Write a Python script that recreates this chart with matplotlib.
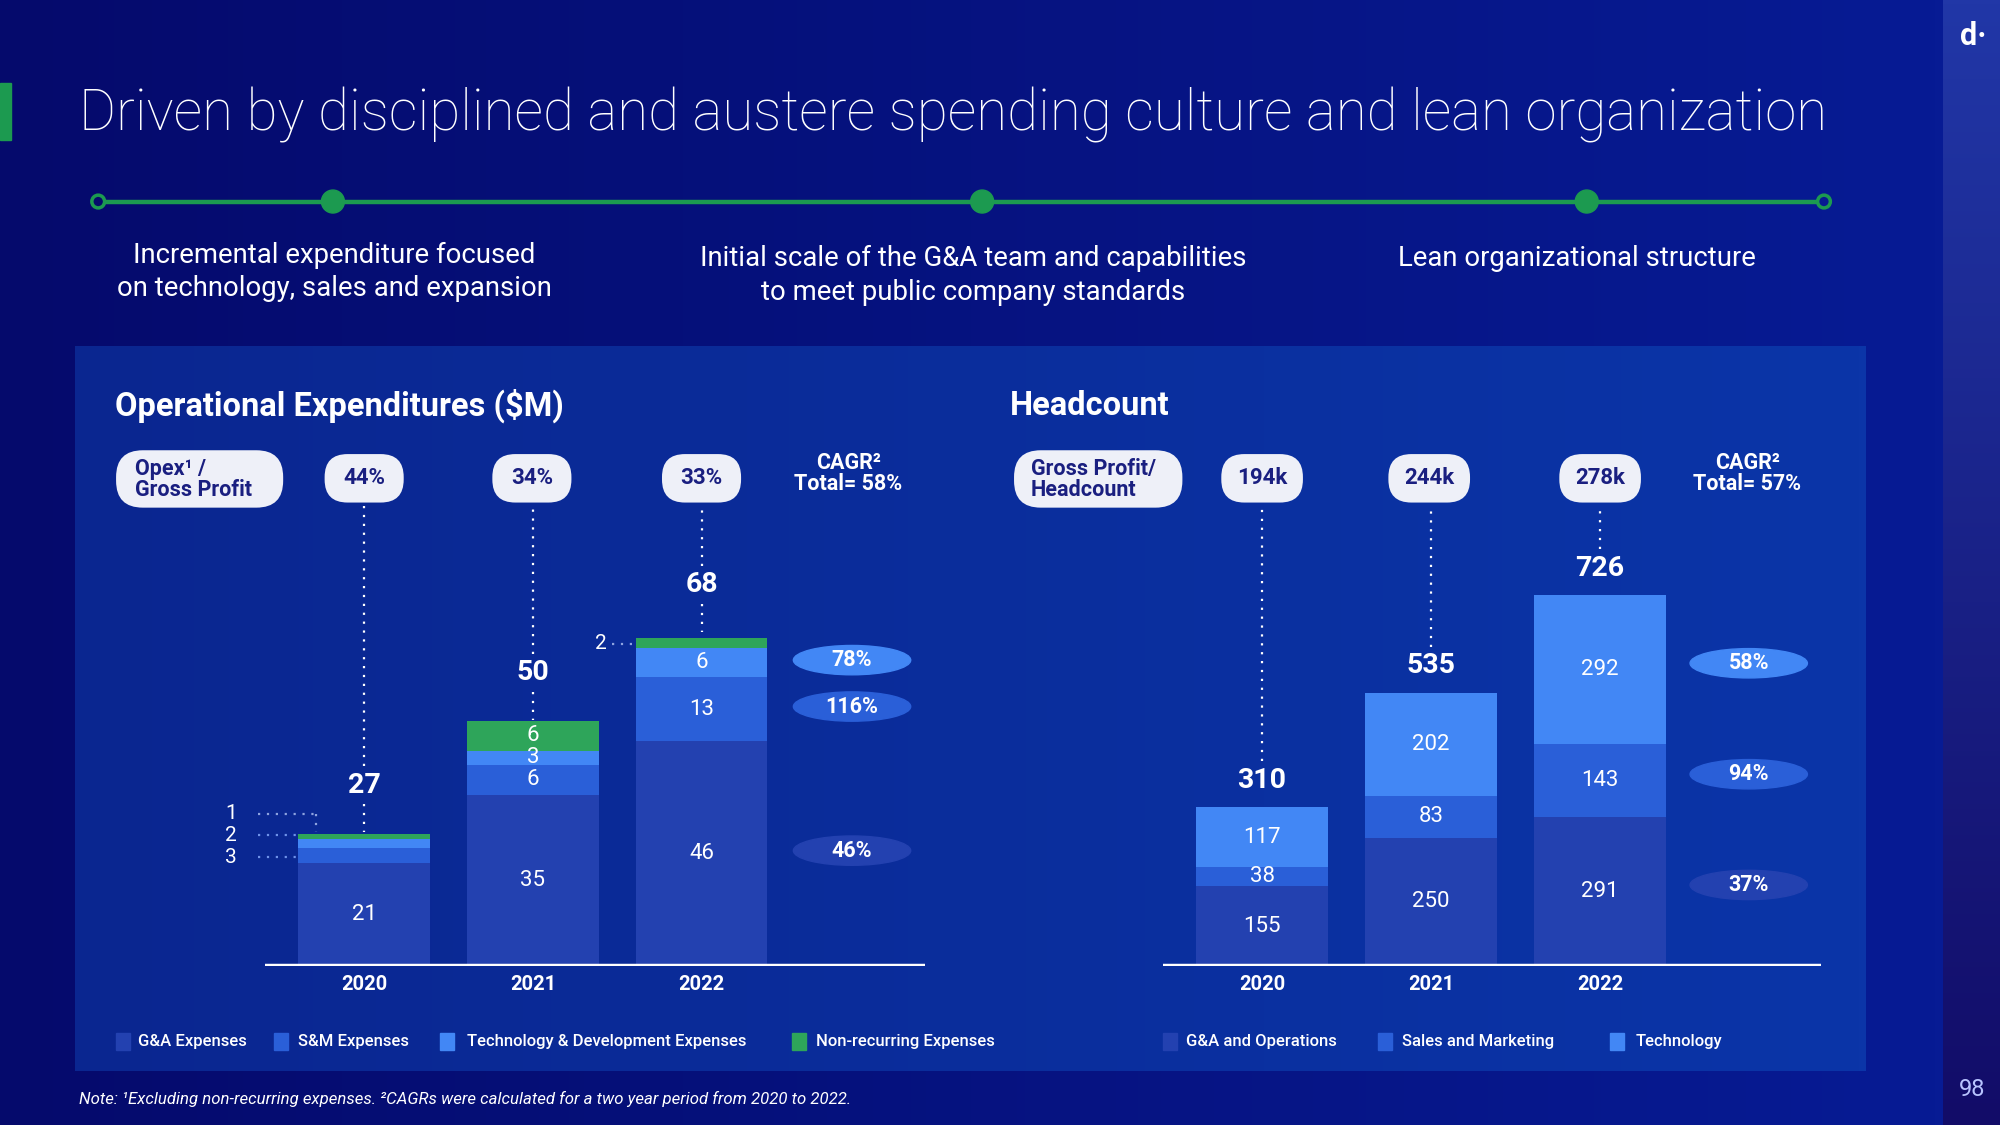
import matplotlib
matplotlib.use('Agg')
import matplotlib.pyplot as plt
import numpy as np
from matplotlib.patches import Rectangle, FancyBboxPatch, Ellipse, Circle
from matplotlib.colors import to_rgb

plt.rcParams['font.family'] = ['Roboto', 'DejaVu Sans']

# ---- data ----
years = ['2020', '2021', '2022']

opex_ga = [21, 35, 46]
opex_sm = [3, 6, 13]
opex_tech = [2, 3, 6]
opex_nr = [1, 6, 2]
opex_total = [27, 50, 68]
opex_ratio = ['44%', '34%', '33%']          # Opex / Gross Profit
opex_cagr = ['46%', '116%', '78%']          # G&A, S&M, Tech
opex_cagr_total = '58%'

hc_ga = [155, 250, 291]
hc_sm = [38, 83, 143]
hc_tech = [117, 202, 292]
hc_total = [310, 535, 726]
hc_gp_per_head = ['194k', '244k', '278k']
hc_cagr = ['37%', '94%', '58%']
hc_cagr_total = '57%'

opex_names = ['G&A Expenses', 'S&M Expenses', 'Technology & Development Expenses', 'Non-recurring Expenses']
hc_names = ['G&A and Operations', 'Sales and Marketing', 'Technology']

# ---- style ----
C_GA = '#2341b0'
C_SM = '#2a5fd8'
C_TECH = '#4287f5'
C_NR = '#2ea55a'
GREEN = '#1c9a50'
NAVY = '#1a1f80'
PILL = '#eef0f8'
WHITE = 'white'

W, H = 1568, 882      # layout grid (reference pixels)
BASE = 757            # baseline of both charts


def fx(x):
    return x / W


def fy(y):
    return 1 - y / H


def grad(c0, c1, n=256, vertical=False):
    a = np.array(to_rgb(c0))
    b = np.array(to_rgb(c1))
    t = np.linspace(0, 1, n)[:, None]
    g = a + (b - a) * t
    return g[:, None, :] if vertical else g[None, :, :]


fig = plt.figure(figsize=(20, 11.25), dpi=100)

# background layer in pixel coords
bg = fig.add_axes([0, 0, 1, 1])
bg.axis('off')
bg.imshow(grad('#050a6c', '#071b94'), extent=(0, 1523, H, 0), aspect='auto')
bg.imshow(grad('#2137a7', '#120c68', vertical=True), extent=(1523, W, H, 0), aspect='auto')
bg.imshow(grad('#0a2690', '#0b35a8'), extent=(59, 1463, 840, 272), aspect='auto')

bg.add_patch(Rectangle((0, 65), 8.5, 45, color=GREEN))
bg.text(62, 90, 'Driven by disciplined and austere spending culture and lean organization',
        color=WHITE, fontsize=40.7, fontweight='light', va='center', ha='left')

# timeline
bg.plot([77, 1430], [158, 158], color=GREEN, lw=3.2, zorder=2)
for xc in [261, 770, 1244]:
    bg.add_patch(Circle((xc, 158), 9, color=GREEN, zorder=3))
bg.add_patch(Circle((77, 158), 5, fc='#050a6c', ec=GREEN, lw=2.5, zorder=3))
bg.add_patch(Circle((1430, 158), 5, fc='#071a92', ec=GREEN, lw=2.5, zorder=3))

bg.text(262, 213, 'Incremental expenditure focused\non technology, sales and expansion',
        color=WHITE, fontsize=19.8, ha='center', va='center', linespacing=1.3)
bg.text(763, 216, 'Initial scale of the G&A team and capabilities\nto meet public company standards',
        color=WHITE, fontsize=19.8, ha='center', va='center', linespacing=1.3)
bg.text(1236, 203, 'Lean organizational structure',
        color=WHITE, fontsize=19.8, ha='center', va='center')

bg.text(90, 318, 'Operational Expenditures ($M)', color=WHITE, fontsize=23.5,
        fontweight='bold', va='center')
bg.text(792, 318, 'Headcount', color=WHITE, fontsize=23.5, fontweight='bold', va='center')


def pill(xc, yc, w, h, r):
    bg.add_patch(FancyBboxPatch((xc - w / 2, yc - h / 2), w, h,
                                boxstyle=f'round,pad=0,rounding_size={r}',
                                fc=PILL, ec='none', zorder=4))


# header pills
pill(156.5, 375.5, 131, 45, 21)
bg.text(106, 376, 'Opex¹ /\nGross Profit', color=NAVY, fontsize=15.5, fontweight='bold',
        va='center', ha='left', linespacing=0.95, zorder=5)
pill(861, 375.5, 132, 45, 21)
bg.text(808, 376, 'Gross Profit/\nHeadcount', color=NAVY, fontsize=15.5, fontweight='bold',
        va='center', ha='left', linespacing=0.95, zorder=5)

bg.text(665, 371, 'CAGR²\nTotal= ' + opex_cagr_total, color=WHITE, fontsize=15.5,
        fontweight='bold', ha='center', va='center', linespacing=0.95)
bg.text(1370, 371, 'CAGR²\nTotal= ' + hc_cagr_total, color=WHITE, fontsize=15.5,
        fontweight='bold', ha='center', va='center', linespacing=0.95)

DOT = (0, (1, 3))


def chart(x0, x1, centers, k, series, colors, skip, total, head, pill_w,
          tot_off, cagr, cagr_x, seg_fs, with_lower_dots, ell_shift):
    ax = fig.add_axes([fx(x0), fy(BASE), fx(x1) - fx(x0), fy(280) - fy(BASE)])
    ax.patch.set_alpha(0)
    step = (centers[2] - centers[0]) / 2
    ax.set_xlim((x0 - centers[0]) / step, 2 + (x1 - centers[2]) / step)
    ax.set_ylim(0, (BASE - 280) / k)
    ax.axis('off')
    x = np.arange(len(years))
    w = 103 / step
    bottom = np.zeros(len(years))
    mids = []
    for s, (vals, col) in enumerate(zip(series, colors)):
        vals = np.array(vals, dtype=float)
        ax.bar(x, vals, bottom=bottom, width=w, color=col, zorder=2, linewidth=0)
        m = bottom + vals / 2
        mids.append(m)
        for i in range(len(years)):
            if (i, s) not in skip:
                ax.text(x[i], m[i], str(int(vals[i])), color=WHITE, fontsize=seg_fs,
                        ha='center', va='center', zorder=3)
        bottom = bottom + vals
    ax.axhline(0, color=WHITE, lw=3.2, zorder=4)
    pill_y = 375
    for i in range(len(years)):
        ax.text(x[i], -15 / k, years[i], color=WHITE, fontsize=14.5, fontweight='bold',
                ha='center', va='center')
        ax.text(x[i], total[i] + tot_off / k, str(total[i]), color=WHITE, fontsize=20.5,
                fontweight='bold', ha='center', va='center')
        ax.plot([x[i], x[i]], [total[i] + (tot_off + 15) / k, (BASE - pill_y - 22) / k],
                color=WHITE, lw=1.6, ls=DOT, zorder=1)
        if with_lower_dots:
            ax.plot([x[i], x[i]], [total[i] + (tot_off - 15) / k, total[i] + 1 / k],
                    color=WHITE, lw=1.6, ls=DOT, zorder=1)
        pill(centers[i], pill_y, pill_w, 38, 18)
        bg.text(centers[i], pill_y, head[i], color=NAVY, fontsize=16, fontweight='bold',
                ha='center', va='center', zorder=5)
    # CAGR ellipses, next to the 2022 bar
    for s in range(3):
        ypx = BASE - mids[s][2] * k + ell_shift
        bg.add_patch(Ellipse((cagr_x, ypx), 92, 23, color=colors[s], zorder=3))
        bg.text(cagr_x, ypx, cagr[s], color=WHITE, fontsize=15.5, fontweight='bold',
                ha='center', va='center', zorder=4)
    return ax, step, w


K1 = 3.83
K2 = 0.40
ax1, step1, w1 = chart(208, 725, [285.5, 417, 550], K1,
                       [opex_ga, opex_sm, opex_tech, opex_nr],
                       [C_GA, C_SM, C_TECH, C_NR],
                       {(0, 1), (0, 2), (0, 3), (2, 3)},
                       opex_total, opex_ratio, 62, 38, opex_cagr, 668, 16, True, -2)
ax2, step2, w2 = chart(912, 1428, [989.5, 1120.5, 1254.5], K2,
                       [hc_ga, hc_sm, hc_tech],
                       [C_GA, C_SM, C_TECH],
                       set(),
                       hc_total, hc_gp_per_head, 64, 21, hc_cagr, 1371, 16, False, -5)

# small-segment callouts on the Opex chart
LDOT = '#6f93ea'
call = [(str(opex_nr[0]), 638), (str(opex_tech[0]), 655), (str(opex_sm[0]), 672)]
for txt, ypx in call:
    bg.text(181, ypx, txt, color=WHITE, fontsize=15, ha='center', va='center')
bg.plot([202, 248], [638, 638], color='#8ea3e0', lw=1.6, ls=DOT)
bg.plot([248, 248], [638, 652], color='#8ea3e0', lw=1.6, ls=DOT)
bg.plot([202, 232], [655, 655], color=LDOT, lw=1.6, ls=DOT)
bg.plot([202, 232], [672, 672], color=LDOT, lw=1.6, ls=DOT)

y_nr22 = BASE - (sum([opex_ga[2], opex_sm[2], opex_tech[2]]) + opex_nr[2] / 2) * K1
bg.text(471, y_nr22, str(opex_nr[2]), color=WHITE, fontsize=15, ha='center', va='center')
bg.plot([480, 496], [y_nr22 + 1, y_nr22 + 1], color='#8ea3e0', lw=1.6, ls=DOT)

# legends
for name, col, xs, xt in zip(opex_names, [C_GA, C_SM, C_TECH, C_NR],
                             [91, 215, 345, 621], [108, 234, 366, 640]):
    bg.add_patch(Rectangle((xs, 810), 11, 13, color=col))
    bg.text(xt, 816.5, name, color=WHITE, fontsize=12, fontweight='medium',
            va='center', ha='left')
for name, col, xs, xt in zip(hc_names, [C_GA, C_SM, C_TECH],
                             [912, 1080, 1262], [930, 1099, 1282]):
    bg.add_patch(Rectangle((xs, 810), 11, 13, color=col))
    bg.text(xt, 816.5, name, color=WHITE, fontsize=12, fontweight='medium',
            va='center', ha='left')

bg.text(62, 862, 'Note: ¹Excluding non-recurring expenses. ²CAGRs were calculated for a two year period from 2020 to 2022.',
        color=WHITE, fontsize=12.1, style='italic', va='center', ha='left')
bg.text(1546, 854, '98', color='#b8c4ff', fontsize=17, ha='center', va='center')
bg.text(1547, 28, 'd·', color=WHITE, fontsize=22, fontweight='bold', ha='center', va='center')

bg.set_xlim(0, W)
bg.set_ylim(H, 0)

fig.savefig('out.png', dpi=100)
